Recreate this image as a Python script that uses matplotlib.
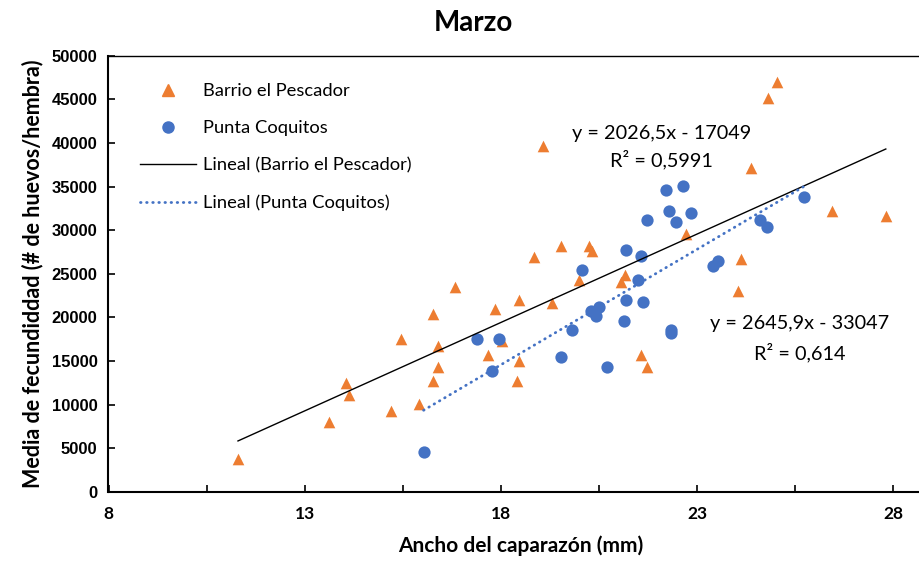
import matplotlib
matplotlib.use("Agg")
import matplotlib.pyplot as plt
from matplotlib.lines import Line2D
import numpy as np

# Barrio el Pescador (triangles)
barrio_x = [11.30, 13.61, 14.05, 14.12, 15.19, 15.46, 15.92, 16.26, 16.41, 16.41,
            16.26, 16.82, 17.67, 17.84, 18.03, 18.45, 18.45, 18.40, 18.84, 19.08,
            19.30, 19.52, 19.98, 20.25, 20.32, 21.05, 21.17, 21.56, 21.73, 22.73,
            24.04, 24.13, 24.37, 24.82, 25.04, 26.45, 27.81]
barrio_y = [3810, 8015, 12440, 11070, 9310, 17480, 10075, 20380, 16720, 14280,
            12745, 23510, 15650, 20920, 17325, 21985, 15035, 12745, 26940, 39620,
            21675, 28245, 24275, 28245, 27630, 24045, 24880, 15650, 14345, 29540,
            22980, 26645, 37180, 45110, 46950, 32210, 31640]

# Punta Coquitos (circles)
punta_x = [16.03, 17.38, 17.94, 17.78, 19.52, 19.81, 20.08, 20.30, 20.49, 20.42,
           20.71, 21.15, 21.20, 21.20, 21.56, 21.49, 21.61, 22.34, 22.34, 21.72,
           22.22, 22.63, 22.29, 22.85, 22.46, 23.41, 23.53, 24.60, 24.77, 25.72]
punta_y = [4615, 17520, 17520, 13890, 15420, 18550, 25420, 20690, 21220, 20150,
           14345, 19615, 21985, 27790, 27020, 24350, 21755, 18550, 18240, 31145,
           34660, 35120, 32210, 31980, 30915, 25955, 26480, 31145, 30380, 33810]

# trendline coefficients (as printed on the chart)
barrio_fit = (2026.5, -17049)
punta_fit = (2645.9, -33047)

orange = '#ED7D31'
blue = '#4472C4'
txt_font = ['Lato', 'DejaVu Sans']

fig = plt.figure(figsize=(9.2, 5.67), dpi=100)
ax = fig.add_axes([108.5 / 920, 75 / 567, 824 / 920, 436.3 / 567])
ax.set_xlim(8, 29)
ax.set_ylim(0, 50000)

ax.scatter(barrio_x, barrio_y, marker='^', s=70, color=orange, linewidths=0, zorder=3)
ax.scatter(punta_x, punta_y, marker='o', s=78, color=blue, linewidths=0, zorder=3)

bx = np.array([min(barrio_x), max(barrio_x)])
ax.plot(bx, barrio_fit[0] * bx + barrio_fit[1], color='black', lw=1.0, zorder=4)
px = np.array([min(punta_x), max(punta_x)])
ax.plot(px, punta_fit[0] * px + punta_fit[1], color=blue, lw=2.0,
        linestyle=(0, (0.2, 2.0)), dash_capstyle='round', zorder=4)

eq_size = 14.3
ax.text(22.10, 41100, 'y = 2026,5x - 17049', ha='center', va='center',
        fontsize=eq_size, family=txt_font)
ax.text(22.10, 38130, 'R² = 0,5991', ha='center', va='center',
        fontsize=eq_size, family=txt_font)
ax.text(25.62, 19350, 'y = 2645,9x - 33047', ha='center', va='center',
        fontsize=eq_size, family=txt_font)
ax.text(25.62, 16030, 'R² = 0,614', ha='center', va='center',
        fontsize=eq_size, family=txt_font)

ax.set_xticks(np.arange(8, 29.1, 2.5))
ax.set_xticklabels(['8', '', '13', '', '18', '', '23', '', '28'])
ax.set_yticks(np.arange(0, 50001, 5000))
ax.tick_params(direction='in', length=5, width=1.2, color='black', pad=10)
for lab in ax.get_xticklabels():
    lab.set_fontfamily(txt_font)
    lab.set_fontweight('bold')
    lab.set_fontsize(12.5)
for lab in ax.get_yticklabels():
    lab.set_fontfamily(['Liberation Sans', 'DejaVu Sans'])
    lab.set_fontweight('bold')
    lab.set_fontsize(12)
ax.tick_params(axis='y', pad=8)
for sp in ['left', 'bottom']:
    ax.spines[sp].set_linewidth(1.5)
ax.spines['top'].set_linewidth(1.0)
ax.spines['right'].set_visible(False)

ax.set_xlabel('Ancho del caparazón (mm)', fontsize=15, fontweight='bold',
              family=txt_font, labelpad=10)
ax.set_ylabel('Media de fecundiddad (# de huevos/hembra)', fontsize=15.5,
              fontweight='bold', family=txt_font, labelpad=6)
fig.text(473 / 920, 1 - 23 / 567, 'Marzo', ha='center', va='center',
         fontsize=20, fontweight='bold', family=txt_font)

handles = [
    Line2D([], [], marker='^', color=orange, linestyle='none', markersize=8),
    Line2D([], [], marker='o', color=blue, linestyle='none', markersize=8),
    Line2D([], [], color='black', lw=1.0),
    Line2D([], [], color=blue, lw=2.0, linestyle=(0, (0.2, 2.0)), dash_capstyle='round'),
]
labels = ['Barrio el Pescador', 'Punta Coquitos', 'Lineal (Barrio el Pescador)',
          'Lineal (Punta Coquitos)']
leg = ax.legend(handles, labels, loc='upper left',
                bbox_to_anchor=(140 / 920, 1 - 83 / 567),
                bbox_transform=fig.transFigure, frameon=False,
                prop={'family': txt_font, 'size': 13.2},
                handlelength=3.05, handletextpad=0.4, labelspacing=1.15,
                borderpad=0, borderaxespad=0)

fig.savefig('out.png', dpi=100)
